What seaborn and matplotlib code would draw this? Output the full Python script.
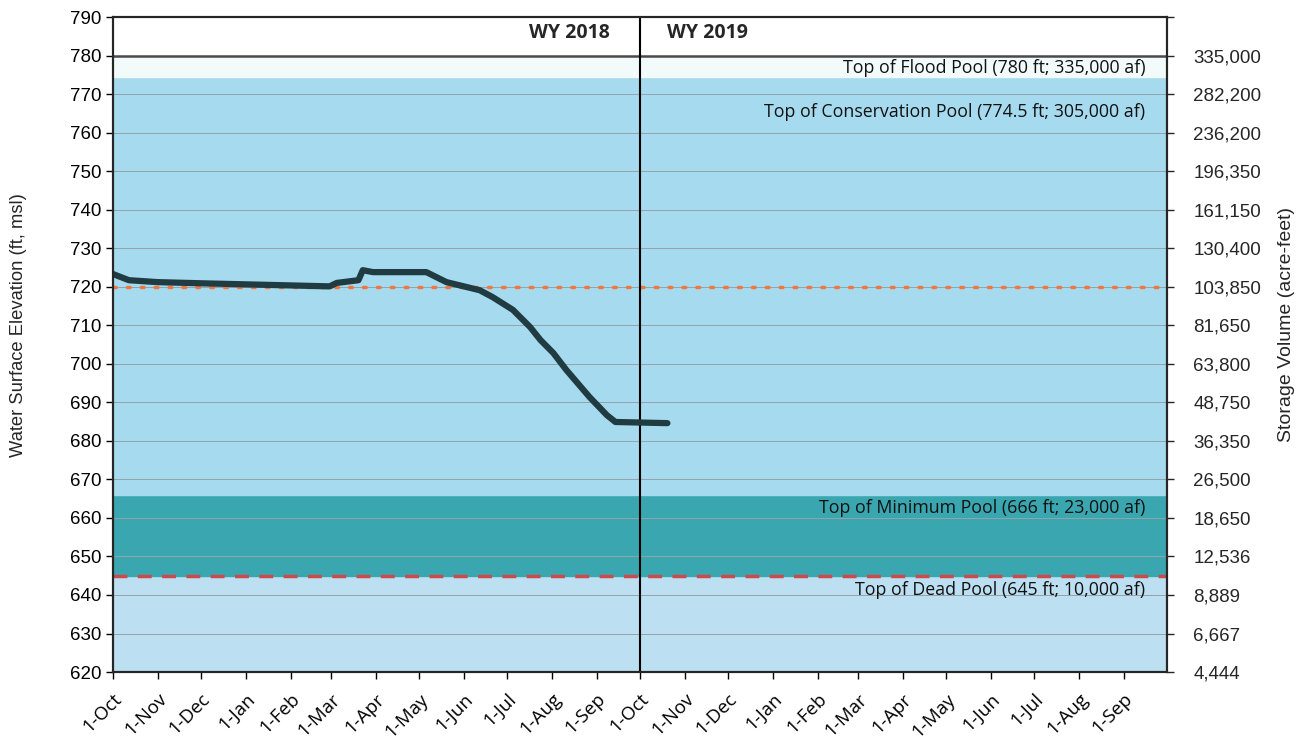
import matplotlib
matplotlib.use("Agg")
import matplotlib.pyplot as plt
import seaborn as sns
import pandas as pd

# reservoir elevation record (ft, msl)
obs_dates = ["2017-10-01", "2017-10-12", "2017-11-01", "2017-12-01", "2018-01-15",
             "2018-02-28", "2018-03-05", "2018-03-20", "2018-03-23", "2018-03-30",
             "2018-05-06", "2018-05-20", "2018-06-12", "2018-06-21", "2018-07-05",
             "2018-07-17", "2018-07-24", "2018-08-02", "2018-08-11", "2018-08-27",
             "2018-09-08", "2018-09-14", "2018-10-20"]
elevation = [723.3, 721.7, 721.2, 720.9, 720.5,
             720.1, 721.0, 721.7, 724.3, 723.8,
             723.8, 721.2, 719.1, 717.3, 714.0,
             709.5, 706.2, 702.8, 698.4, 691.4,
             686.7, 684.9, 684.6]

# pool levels (ft)
flood_pool = 780
conservation_pool = 774.5
minimum_pool = 666
dead_pool = 645
target_level = 720

elev_ticks = list(range(620, 791, 10))
storage_labels = ["4,444", "6,667", "8,889", "12,536", "18,650", "26,500", "36,350",
                  "48,750", "63,800", "81,650", "103,850", "130,400", "161,150",
                  "196,350", "236,200", "282,200", "335,000", ""]

pool_labels = [
    (780, "Top of Flood Pool (780 ft; 335,000 af)"),
    (774.5, "Top of Conservation Pool (774.5 ft; 305,000 af)"),
    (666, "Top of Minimum Pool (666 ft; 23,000 af)"),
    (645, "Top of Dead Pool (645 ft; 10,000 af)"),
]

df = pd.DataFrame({"date": pd.to_datetime(obs_dates), "elev": elevation})

sns.set_style("white")
plt.rcParams["font.family"] = ["Liberation Sans", "DejaVu Sans"]
narrow = ["Open Sans", "DejaVu Sans"]

fig = plt.figure(figsize=(13.05, 7.42), dpi=100)
ax = fig.add_axes([0.0866, 0.0943, 0.8076, 0.8827])

ax.set_xlim(pd.Timestamp("2017-10-01"), pd.Timestamp("2019-10-01"))
ax.set_ylim(620, 790)

# pool bands
ax.axhspan(620, dead_pool, color="#bcdff2", zorder=0)
ax.axhspan(dead_pool, minimum_pool, color="#3aa7b0", zorder=0)
ax.axhspan(minimum_pool, conservation_pool, color="#a6dbef", zorder=0)
ax.axhspan(conservation_pool, flood_pool, color="#f2fafa", zorder=0)

for y in elev_ticks:
    ax.axhline(y, color="#93a3a8", lw=0.7, zorder=1)
ax.axhline(flood_pool, color="#4a4a4a", lw=1.8, zorder=2)
ax.axhline(dead_pool, color="#cc4a4a", lw=2.5, ls=(0, (4, 3)), zorder=2)
ax.axhline(target_level, color="#f07840", lw=2.5, ls=(0, (0.8, 3.2)),
           dash_capstyle="round", zorder=2)

ax.axvline(pd.Timestamp("2018-10-01"), color="black", lw=1.5, zorder=3)

sns.lineplot(data=df, x="date", y="elev", ax=ax, color="#203c42", lw=4.5, zorder=4)

ax.text(pd.Timestamp("2018-09-10"), 785.8, "WY 2018", ha="right", va="center",
        fontsize=14, fontweight="bold", family=narrow)
ax.text(pd.Timestamp("2018-10-20"), 785.8, "WY 2019", ha="left", va="center",
        fontsize=14, fontweight="bold", family=narrow)

label_x = pd.Timestamp("2019-09-16")
offsets = {780: -3.2, 774.5: -9.2, 666: -3.4, 645: -3.7}
for lvl, txt in pool_labels:
    ax.text(label_x, lvl + offsets[lvl], txt, ha="right", va="center", fontsize=12.8,
            family=narrow, color="#111111")

months = pd.date_range("2017-10-01", "2019-09-01", freq="MS")
ax.set_xticks(months)
ax.set_xticklabels([f"1-{m.strftime('%b')}" for m in months], rotation=45,
                   ha="right", rotation_mode="anchor", fontsize=13.5, family=narrow)
ax.set_yticks(elev_ticks)
ax.tick_params(axis="y", direction="out", length=5, width=1, colors="black",
               labelsize=13.5, left=True)
ax.tick_params(axis="x", direction="out", length=5, width=1, colors="black",
               bottom=True, pad=8)
ax.set_xlabel("")
ax.set_ylabel("Water Surface Elevation (ft, msl)", fontsize=13.2)
ax.yaxis.set_label_coords(-0.0816, 0.53)

for s in ax.spines.values():
    s.set_color("black")
    s.set_linewidth(1.5)

ax2 = ax.twinx()
ax2.set_ylim(620, 790)
ax2.set_yticks(elev_ticks)
ax2.set_yticklabels(storage_labels)
ax2.tick_params(axis="y", direction="out", length=5, width=1, labelsize=13.5,
                right=True, pad=14)
ax2.set_ylabel("Storage Volume (acre-feet)", fontsize=14)
ax2.yaxis.set_label_coords(1.105, 0.531)
for s in ax2.spines.values():
    s.set_linewidth(1.5)

fig.savefig("out.png", dpi=100)
